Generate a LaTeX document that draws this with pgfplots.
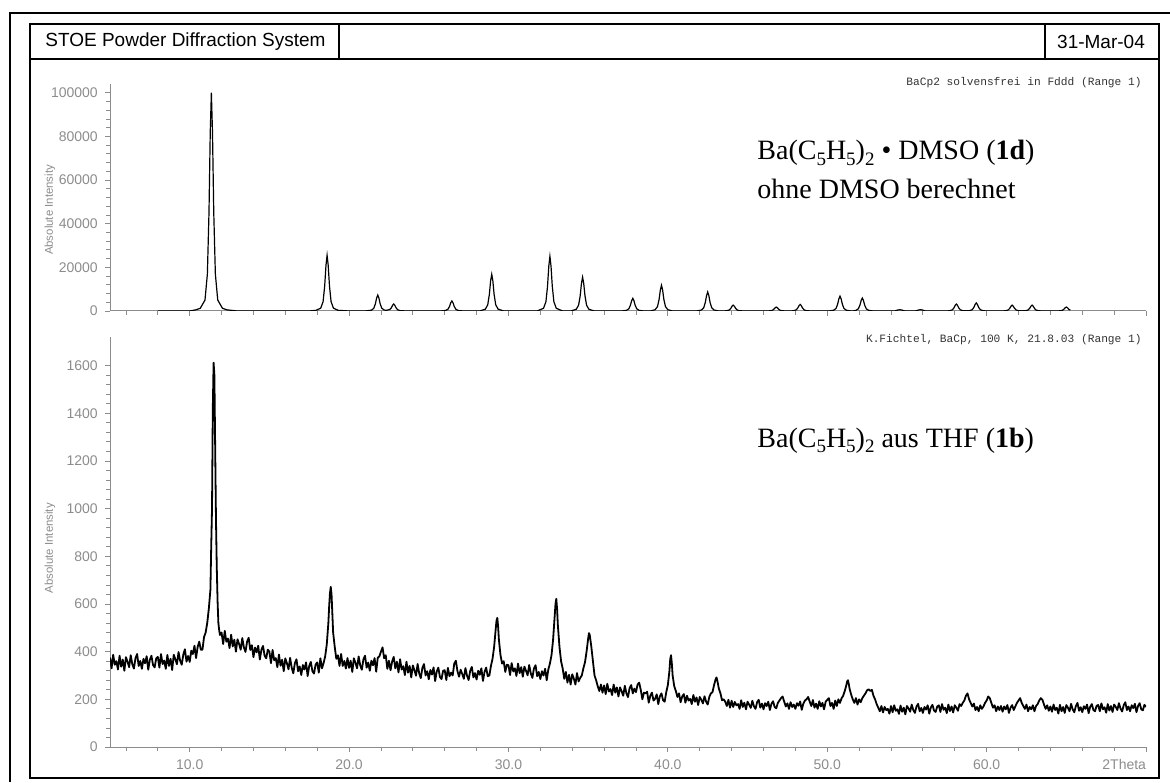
\documentclass[border=0pt]{standalone}
\usepackage{fontspec}
\setmainfont{Liberation Sans}
\newfontfamily\timesfont{Liberation Serif}
\newfontfamily\courierfont{Liberation Mono}
\usepackage{pgfplots}
\pgfplotsset{compat=1.18}
\definecolor{axgray}{RGB}{140,140,140}
\newcommand{\sub}[1]{\raisebox{-0.4ex}{\fontsize{9.5}{10}\selectfont #1}}

\pgfplotsset{
  stoe/.style={
    scale only axis, width=518pt,
    xmin=5, xmax=70,
    axis lines=left, axis line style={-, axgray, line width=0.5pt},
    tick align=outside, major tick length=2.6pt, minor tick length=1.8pt,
    every tick/.style={axgray, line width=0.4pt},
    xtick={10,20,...,70}, minor xtick={6,8,...,68},
    minor y tick num=4,
    tick label style={font=\fontsize{7}{8}\selectfont, text=axgray},
    /pgf/number format/assume math mode=true,
    scaled y ticks=false,
    yticklabel style={/pgf/number format/fixed, /pgf/number format/1000 sep={}},
    ylabel={Absolute Intensity},
  },
}

\begin{document}
\begin{tikzpicture}[x=0.5pt,y=0.5pt]
\useasboundingbox (0,0) rectangle (1170,782);

% top: calculated pattern
\begin{axis}[stoe,
    at={(55pt,235.5pt)}, anchor=south west, height=113.5pt,
    ymin=0, ymax=104000,
    ytick={0,20000,...,100000},
    xticklabels={},
    every axis y label/.style={at={(axis description cs:-0.058,0.445)}, rotate=90, anchor=center,
      font=\fontsize{5.7}{6.5}\selectfont, text=axgray},
]
\addplot[black, line width=0.6pt] coordinates {
(8.0,0) (10.0,0) (10.36,500) (10.66,1200) (10.96,5000) (11.11,17000) (11.21,45000) (11.29,82000)
(11.36,100000) (11.43,82000) (11.51,45000) (11.61,17000) (11.76,5000) (12.06,1200) (12.36,500) (13.0,0)
(17.5,0) (17.92,300) (18.22,1300) (18.37,4300) (18.47,11500) (18.55,20900) (18.62,25500) (18.69,20900)
(18.77,11500) (18.87,4300) (19.02,1300) (19.32,300) (20.0,0)
(21.0,0) (21.40,365) (21.55,1240) (21.65,3300) (21.73,6000) (21.80,7300) (21.87,6000) (21.95,3300)
(22.05,1300) (22.20,450) (22.33,300) (22.40,400) (22.55,700) (22.65,1440) (22.73,2620) (22.80,3200)
(22.87,2620) (22.95,1440) (23.05,544) (23.20,160) (23.6,0)
(25.7,0) (26.05,230) (26.20,780) (26.30,2070) (26.38,3770) (26.45,4600) (26.52,3770) (26.60,2070)
(26.70,780) (26.85,230) (27.2,0)
(28.2,0) (28.55,840) (28.70,2860) (28.80,7560) (28.88,13800) (28.95,16800) (29.02,13800) (29.10,7560)
(29.20,2860) (29.35,840) (29.7,0)
(31.8,0) (32.20,1250) (32.35,4250) (32.45,11250) (32.53,20500) (32.60,25000) (32.67,20500) (32.75,11250)
(32.85,4250) (33.00,1250) (33.4,0)
(33.9,0) (34.25,775) (34.40,2640) (34.50,6980) (34.58,12700) (34.65,15500) (34.72,12700) (34.80,6980)
(34.90,2640) (35.05,775) (35.4,0)
(37.1,0) (37.40,290) (37.55,990) (37.65,2610) (37.73,4760) (37.80,5800) (37.87,4760) (37.95,2610)
(38.05,990) (38.20,290) (38.5,0)
(38.9,0) (39.20,590) (39.35,2000) (39.45,5310) (39.53,9680) (39.60,11800) (39.67,9680) (39.75,5310)
(39.85,2000) (40.00,590) (40.3,0)
(41.8,0) (42.10,435) (42.25,1480) (42.35,3920) (42.43,7130) (42.50,8700) (42.57,7130) (42.65,3920)
(42.75,1480) (42.90,435) (43.2,0)
(43.5,0) (43.70,135) (43.85,460) (43.95,1215) (44.03,2210) (44.10,2700) (44.17,2210) (44.25,1215)
(44.35,460) (44.50,135) (44.8,0)
(46.2,0) (46.40,90) (46.55,306) (46.65,810) (46.73,1480) (46.80,1800) (46.87,1480) (46.95,810)
(47.05,306) (47.20,90) (47.5,0)
(47.7,0) (47.90,150) (48.05,510) (48.15,1350) (48.23,2460) (48.30,3000) (48.37,2460) (48.45,1350)
(48.55,510) (48.70,150) (49.0,0)
(50.1,0) (50.40,340) (50.55,1160) (50.65,3060) (50.73,5580) (50.80,6800) (50.87,5580) (50.95,3060)
(51.05,1160) (51.20,340) (51.5,0)
(51.6,0) (51.80,295) (51.95,1000) (52.05,2660) (52.13,4840) (52.20,5900) (52.27,4840) (52.35,2660)
(52.45,1000) (52.60,295) (52.9,0)
(54.1,0) (54.25,50) (54.40,400) (54.55,600) (54.70,400) (54.85,50) (55.1,0)
(55.4,0) (55.55,50) (55.70,400) (55.85,600) (56.00,400) (56.15,50) (56.4,0)
(57.5,0) (57.70,160) (57.85,544) (57.95,1440) (58.03,2620) (58.10,3200) (58.17,2620) (58.25,1440)
(58.35,544) (58.50,160) (58.72,60) (58.95,185) (59.10,630) (59.20,1665) (59.28,3030) (59.35,3700)
(59.42,3030) (59.50,1665) (59.60,630) (59.75,185) (60.0,0)
(61.0,0) (61.20,135) (61.35,460) (61.45,1215) (61.53,2210) (61.60,2700) (61.67,2210) (61.75,1215)
(61.85,460) (62.00,135) (62.22,60) (62.45,135) (62.60,460) (62.70,1215) (62.78,2210) (62.85,2700)
(62.92,2210) (63.00,1215) (63.10,460) (63.25,135) (63.5,0)
(64.4,0) (64.60,90) (64.75,306) (64.85,810) (64.93,1480) (65.00,1800) (65.07,1480) (65.15,810) (65.25,450)
};
\end{axis}

% bottom: measured pattern
\begin{axis}[stoe,
    at={(55pt,17.5pt)}, anchor=south west, height=205pt,
    ymin=0, ymax=1720,
    ytick={0,200,...,1600},
    xticklabels={10.0,20.0,30.0,40.0,50.0,60.0,\llap{2Theta}},
    every axis y label/.style={at={(axis description cs:-0.058,0.485)}, rotate=90, anchor=center,
      font=\fontsize{5.7}{6.5}\selectfont, text=axgray},
]
\addplot[black, line width=0.9pt, line join=round] coordinates {
(5.0,375) (5.1,330) (5.2,387) (5.3,345) (5.4,360) (5.5,325) (5.6,383) (5.7,337) (5.8,367) (5.9,320)
(6.0,377) (6.1,358) (6.2,335) (6.3,385) (6.4,347) (6.5,329) (6.6,373) (6.7,390) (6.8,340) (6.9,361)
(7.0,328) (7.1,370) (7.2,351) (7.3,381) (7.4,324) (7.5,366) (7.6,383) (7.7,344) (7.8,334) (7.9,372)
(8.0,378) (8.1,333) (8.2,390) (8.3,348) (8.4,363) (8.5,328) (8.6,386) (8.7,340) (8.8,370) (8.9,323)
(9.0,387) (9.1,368) (9.2,347) (9.3,398) (9.4,362) (9.5,345) (9.6,388) (9.7,410) (9.8,358) (9.9,382)
(10.0,357) (10.1,404) (10.2,390) (10.3,425) (10.4,373) (10.5,420) (10.6,442) (10.7,408) (10.8,408) (10.9,461)
(11.0,480) (11.1,520) (11.2,580) (11.3,660) (11.35,840) (11.4,1000) (11.45,1420) (11.5,1612)
(11.55,1560) (11.6,1250) (11.65,950) (11.7,750) (11.75,610) (11.8,520) (11.85,490) (11.9,470)
(12.0,480) (12.1,432) (12.2,487) (12.3,442) (12.4,455) (12.5,415) (12.6,471) (12.7,422) (12.8,450) (12.9,400)
(13.0,452) (13.1,432) (13.2,408) (13.3,457) (13.4,418) (13.5,399) (13.6,442) (13.7,458) (13.8,407) (13.9,427)
(14.0,377) (14.1,417) (14.2,397) (14.3,425) (14.4,367) (14.5,408) (14.6,424) (14.7,383) (14.8,372) (14.9,408)
(15.0,400) (15.1,352) (15.2,407) (15.3,364) (15.4,373) (15.5,335) (15.6,388) (15.7,341) (15.8,366) (15.9,318)
(16.0,372) (16.1,351) (16.2,326) (16.3,374) (16.4,333) (16.5,309) (16.6,352) (16.7,368) (16.8,318) (16.9,338)
(17.0,302) (17.1,344) (17.2,325) (17.3,355) (17.4,298) (17.5,340) (17.6,357) (17.7,318) (17.8,308) (17.9,346)
(18.0,355) (18.1,312) (18.2,372) (18.3,330) (18.4,352) (18.5,380) (18.6,430) (18.7,520) (18.75,590)
(18.8,645) (18.85,672) (18.9,640) (18.95,560) (19.0,480) (19.1,420) (19.2,370) (19.3,385) (19.4,340)
(19.5,390) (19.6,340) (19.7,361) (19.8,329) (19.9,373)
(20.0,332) (20.1,362) (20.2,315) (20.3,372) (20.4,353) (20.5,330) (20.6,380) (20.7,342) (20.8,324) (20.9,368)
(21.0,383) (21.1,333) (21.2,354) (21.3,320) (21.4,362) (21.5,343) (21.6,373) (21.7,316) (21.8,375) (21.9,380)
(22.0,400) (22.1,418) (22.2,372) (22.3,385) (22.4,328) (22.5,362) (22.6,322) (22.7,358) (22.8,378) (22.9,330)
(23.0,358) (23.1,313) (23.2,368) (23.3,325) (23.4,339) (23.5,302) (23.6,358) (23.7,312) (23.8,340) (23.9,292)
(24.0,342) (24.1,322) (24.2,299) (24.3,348) (24.4,309) (24.5,289) (24.6,332) (24.7,348) (24.8,300) (24.9,318)
(25.0,284) (25.1,323) (25.2,304) (25.3,334) (25.4,277) (25.5,317) (25.6,333) (25.7,294) (25.8,285) (25.9,320)
(26.0,322) (26.1,281) (26.2,332) (26.3,297) (26.4,312) (26.5,300) (26.6,350) (26.7,362) (26.8,318) (26.9,295)
(27.0,324) (27.1,306) (27.2,286) (27.3,331) (27.4,299) (27.5,281) (27.6,320) (27.7,336) (27.8,292) (27.9,310)
(28.0,283) (28.1,320) (28.2,303) (28.3,330) (28.4,277) (28.5,316) (28.6,333) (28.7,297) (28.8,300) (28.9,340)
(29.0,370) (29.1,420) (29.2,495) (29.25,530) (29.3,542) (29.35,505) (29.4,450) (29.5,385) (29.6,350)
(29.7,360) (29.8,315) (29.9,345)
(30.0,343) (30.1,302) (30.2,352) (30.3,317) (30.4,330) (30.5,298) (30.6,350) (30.7,310) (30.8,335) (30.9,295)
(31.0,337) (31.1,320) (31.2,301) (31.3,344) (31.4,309) (31.5,290) (31.6,330) (31.7,343) (31.8,297) (31.9,315)
(32.0,285) (32.1,318) (32.2,300) (32.3,328) (32.4,280) (32.5,325) (32.6,350) (32.7,385) (32.8,450) (32.9,550)
(32.95,600) (33.0,622) (33.05,580) (33.1,510) (33.2,420) (33.3,360) (33.4,330) (33.5,286) (33.6,315)
(33.7,270) (33.8,303) (33.9,262)
(34.0,305) (34.1,287) (34.2,262) (34.3,310) (34.4,275) (34.5,290) (34.6,300) (34.7,330) (34.8,355) (34.9,400)
(35.0,455) (35.05,478) (35.1,470) (35.2,420) (35.3,360) (35.4,300) (35.5,280) (35.6,255) (35.7,235)
(35.8,262) (35.9,228)
(36.0,258) (36.1,222) (36.2,265) (36.3,233) (36.4,243) (36.5,218) (36.6,262) (36.7,228) (36.8,250) (36.9,212)
(37.0,250) (37.1,234) (37.2,215) (37.3,257) (37.4,225) (37.5,209) (37.6,247) (37.7,260) (37.8,225) (37.9,245)
(38.0,230) (38.1,262) (38.2,270) (38.3,240) (38.4,200) (38.5,228) (38.6,225) (38.7,232) (38.8,186) (38.9,215)
(39.0,228) (39.1,195) (39.2,202) (39.3,221) (39.4,180) (39.5,213) (39.6,225) (39.7,196) (39.8,190) (39.9,230)
(40.0,260) (40.1,320) (40.15,370) (40.2,385) (40.25,350) (40.3,300) (40.4,255) (40.5,235) (40.6,210)
(40.7,225) (40.8,188) (40.9,212)
(41.0,222) (41.1,186) (41.2,215) (41.3,195) (41.4,202) (41.5,180) (41.6,218) (41.7,190) (41.8,208) (41.9,176)
(42.0,210) (42.1,198) (42.2,183) (42.3,213) (42.4,190) (42.5,178) (42.6,210) (42.7,225) (42.8,230) (42.9,260)
(43.0,285) (43.05,292) (43.1,280) (43.2,245) (43.3,225) (43.4,196) (43.5,200) (43.6,190) (43.7,172)
(43.8,198) (43.9,165)
(44.0,194) (44.1,168) (44.2,189) (44.3,175) (44.4,180) (44.5,160) (44.6,196) (44.7,168) (44.8,186) (44.9,158)
(45.0,190) (45.1,178) (45.2,164) (45.3,194) (45.4,171) (45.5,160) (45.6,188) (45.7,198) (45.8,165) (45.9,182)
(46.0,158) (46.1,184) (46.2,172) (46.3,190) (46.4,155) (46.5,181) (46.6,192) (46.7,168) (46.8,162) (46.9,185)
(47.0,195) (47.1,205) (47.2,212) (47.3,190) (47.4,170) (47.5,183) (47.6,160) (47.7,188) (47.8,168) (47.9,178)
(48.0,160) (48.1,184) (48.2,173) (48.3,191) (48.4,156) (48.5,182) (48.6,195) (48.7,200) (48.8,210) (48.9,190)
(49.0,172) (49.1,197) (49.2,165) (49.3,182) (49.4,160) (49.5,192) (49.6,170) (49.7,185) (49.8,158) (49.9,190)
(50.0,198) (50.1,205) (50.2,172) (50.3,185) (50.4,160) (50.5,195) (50.6,172) (50.7,200) (50.8,185) (50.9,205)
(51.0,215) (51.1,235) (51.2,260) (51.25,275) (51.3,280) (51.35,265) (51.4,245) (51.5,220) (51.6,200)
(51.7,185) (51.8,205) (51.9,178)
(52.0,200) (52.1,188) (52.2,205) (52.3,215) (52.4,225) (52.5,238) (52.6,242) (52.7,235) (52.8,240) (52.9,215)
(53.0,200) (53.1,180) (53.2,165) (53.3,150) (53.4,172) (53.5,145) (53.6,168) (53.7,155) (53.8,160) (53.9,140)
(54.0,172) (54.1,146) (54.2,175) (54.3,152) (54.4,158) (54.5,139) (54.6,174) (54.7,148) (54.8,165) (54.9,137)
(55.0,172) (55.1,162) (55.2,148) (55.3,178) (55.4,155) (55.5,143) (55.6,170) (55.7,181) (55.8,150) (55.9,164)
(56.0,143) (56.1,168) (56.2,157) (56.3,175) (56.4,140) (56.5,166) (56.6,177) (56.7,153) (56.8,147) (56.9,170)
(57.0,175) (57.1,147) (57.2,180) (57.3,156) (57.4,165) (57.5,142) (57.6,178) (57.7,151) (57.8,170) (57.9,145)
(58.0,175) (58.1,165) (58.2,152) (58.3,180) (58.4,172) (58.5,185) (58.6,195) (58.7,215) (58.8,225) (58.9,200)
(59.0,185) (59.1,170) (59.2,182) (59.3,155) (59.4,168) (59.5,150) (59.6,175) (59.7,160) (59.8,170) (59.9,185)
(60.0,195) (60.1,212) (60.2,205) (60.3,185) (60.4,165) (60.5,175) (60.6,150) (60.7,170) (60.8,155) (60.9,172)
(61.0,148) (61.1,170) (61.2,158) (61.3,176) (61.4,143) (61.5,165) (61.6,176) (61.7,155) (61.8,170) (61.9,185)
(62.0,195) (62.1,205) (62.2,185) (62.3,172) (62.4,160) (62.5,178) (62.6,150) (62.7,168) (62.8,158) (62.9,175)
(63.0,150) (63.1,172) (63.2,180) (63.3,195) (63.4,205) (63.5,198) (63.6,178) (63.7,160) (63.8,175) (63.9,152)
(64.0,170) (64.1,148) (64.2,178) (64.3,155) (64.4,165) (64.5,140) (64.6,177) (64.7,150) (64.8,168) (64.9,143)
(65.0,176) (65.1,165) (65.2,150) (65.3,181) (65.4,158) (65.5,146) (65.6,172) (65.7,185) (65.8,152) (65.9,167)
(66.0,146) (66.1,171) (66.2,160) (66.3,178) (66.4,142) (66.5,169) (66.6,180) (66.7,155) (66.8,150) (66.9,173)
(67.0,176) (67.1,150) (67.2,183) (67.3,158) (67.4,167) (67.5,144) (67.6,180) (67.7,153) (67.8,172) (67.9,147)
(68.0,178) (68.1,168) (68.2,155) (68.3,184) (68.4,161) (68.5,149) (68.6,175) (68.7,188) (68.8,155) (68.9,170)
(69.0,150) (69.1,175) (69.2,163) (69.3,181) (69.4,146) (69.5,172) (69.6,184) (69.7,158) (69.8,154) (69.9,177)
(70.0,168)
};
\end{axis}

% frames
\draw[line width=1pt] (9.5,0) -- (9.5,769) -- (1170,769);
\draw[line width=0.6pt] (30,4) rectangle (1159,758);
\draw[line width=0.6pt] (30,723) -- (1159,723);
\draw[line width=0.6pt] (339,723) -- (339,758);
\draw[line width=0.6pt] (1045,723) -- (1045,758);
\node[anchor=west, inner sep=0pt, font=\fontsize{9.5}{11}\selectfont] at (45,740.5) {STOE Powder Diffraction System};
\node[anchor=center, inner sep=0pt, font=\fontsize{9.5}{11}\selectfont] at (1101,740.5) {31-Mar-04};

% range captions
\node[anchor=east, inner sep=0pt, font=\courierfont\fontsize{5.6}{6.5}\selectfont, text=black!80] at (1142,699) {BaCp2 solvensfrei in Fddd (Range 1)};
\node[anchor=east, inner sep=0pt, font=\courierfont\fontsize{5.6}{6.5}\selectfont, text=black!80] at (1142,442) {K.Fichtel, BaCp, 100 K, 21.8.03 (Range 1)};

% sample labels
\node[anchor=base west, inner sep=0pt, font=\timesfont\fontsize{14}{16}\selectfont] at (757,622) {Ba(C\sub{5}H\sub{5})\sub{2} • DMSO (\textbf{1d})};
\node[anchor=base west, inner sep=0pt, font=\timesfont\fontsize{14}{16}\selectfont] at (757,583) {ohne DMSO berechnet};
\node[anchor=base west, inner sep=0pt, font=\timesfont\fontsize{14}{16}\selectfont] at (757,335) {Ba(C\sub{5}H\sub{5})\sub{2} aus THF (\textbf{1b})};
\end{tikzpicture}
\end{document}
